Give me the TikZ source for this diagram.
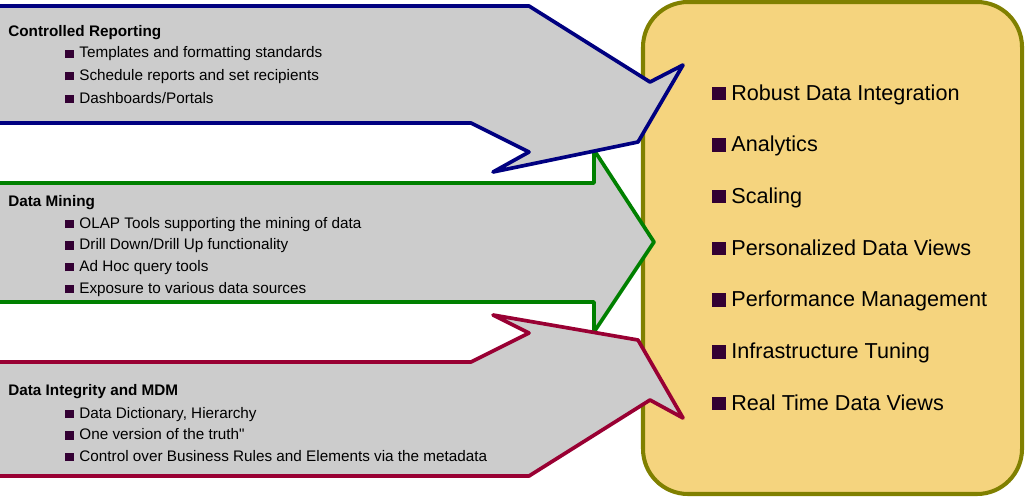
\documentclass[tikz,border=0pt]{standalone}
\usepackage{fontspec}
\setmainfont{Liberation Sans}
\usetikzlibrary{positioning}

\definecolor{greyfill}{HTML}{CCCCCC}
\definecolor{blueline}{HTML}{000080}
\definecolor{greenline}{HTML}{008000}
\definecolor{redline}{HTML}{990033}
\definecolor{boxfill}{HTML}{F5D47E}
\definecolor{boxline}{HTML}{808000}
\definecolor{bulcol}{HTML}{330033}

\newcommand{\bsq}{{\color{bulcol}\rule{4.8pt}{4.8pt}}\hspace{3.2pt}}
\newcommand{\bigsq}{{\color{bulcol}\rule{7.6pt}{7.6pt}}\hspace{3.2pt}}

\tikzset{
	pointer/.style={fill=greyfill, line width=2.1pt, line join=round},
	goalbox/.style={fill=boxfill, draw=boxline, line width=2.3pt, rounded corners=0.9cm},
	heading/.style={anchor=base west, inner sep=0pt, font=\fontsize{8.7}{10}\selectfont\bfseries},
	item/.style={anchor=base west, inner sep=0pt, font=\fontsize{8.7}{10}\selectfont},
	goal/.style={anchor=base west, inner sep=0pt, font=\fontsize{12.3}{14}\selectfont}
}

\begin{document}
\begin{tikzpicture}[x=0.02cm, y=-0.02cm]
	\useasboundingbox (0,0) rectangle (1026,500);
	
	\draw[goalbox] (643,2) rectangle (1022,494);
	
	\draw[pointer, draw=greenline] (-10,183) -- (594,183) -- (594,150) -- (654,242) -- (594,332) -- (594,302) -- (-10,302) -- cycle;
	\draw[pointer, draw=blueline] (-10,6) -- (529,6) -- (650,82) -- (683,65) -- (638,142) -- (493,172) -- (529,152) -- (471,123) -- (-10,123) -- cycle;
	\draw[pointer, draw=redline] (-10,362) -- (471,362) -- (529,333) -- (493,315) -- (638,340) -- (683,418) -- (650,400) -- (529,476) -- (-10,476) -- cycle;
	
	% left-hand texts
	\node[heading] (rep) at (8,37) {Controlled Reporting};
	\foreach \t [count=\i] in {Templates and formatting standards, Schedule reports and set recipients, Dashboards/Portals}
		\node[item] (rep\i) at (65,{58+22.5*(\i-1)}) {\bsq\t};
	
	\node[heading] (min) at (8,206) {Data Mining};
	\foreach \t [count=\i] in {OLAP Tools supporting the mining of data, Drill Down/Drill Up functionality, Ad Hoc query tools, Exposure to various data sources}
		\node[item] (min\i) at (65,{228+21.7*(\i-1)}) {\bsq\t};
	
	\node[heading] (mdm) at (8,395) {Data Integrity and MDM};
	\foreach \t [count=\i] in {{Data Dictionary, Hierarchy}, One version of the truth\textquotedbl, Control over Business Rules and Elements via the metadata}
		\node[item] (mdm\i) at (65,{418+21.5*(\i-1)}) {\bsq\t};
	
	% right-hand box
	\foreach \t [count=\i] in {Robust Data Integration, Analytics, Scaling, Personalized Data Views, Performance Management, Infrastructure Tuning, Real Time Data Views}
		\node[goal] (goal\i) at (712,{100+51.7*(\i-1)}) {\bigsq\t};
	
\end{tikzpicture}
\end{document}
